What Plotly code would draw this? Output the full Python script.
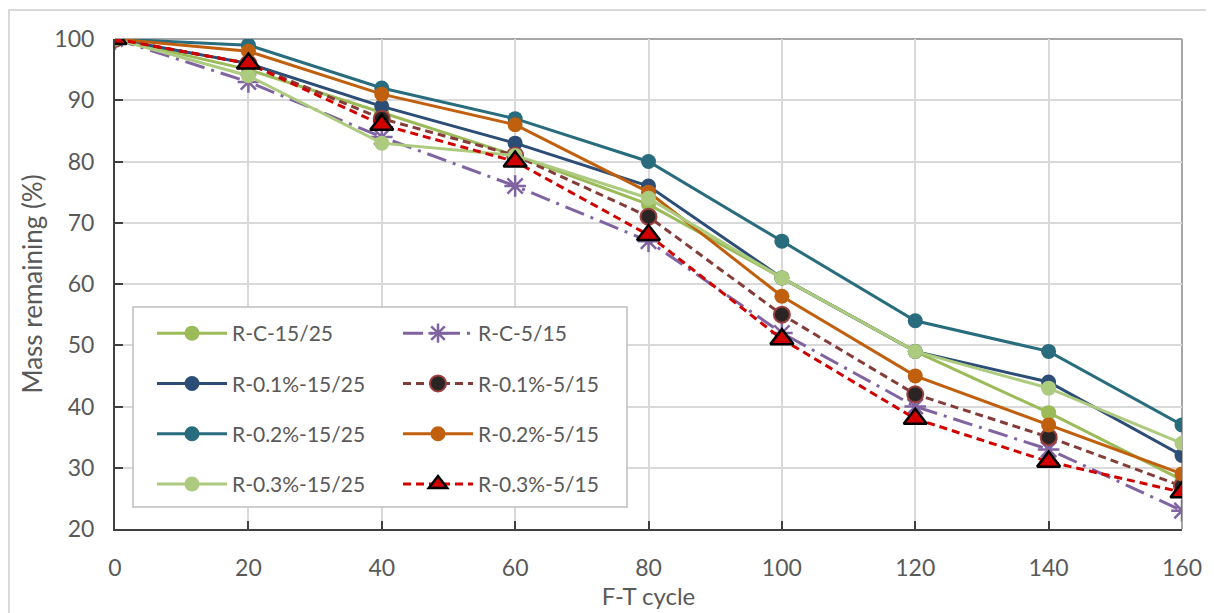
import plotly.graph_objects as go

cycles = [0, 20, 40, 60, 80, 100, 120, 140, 160]

names = ["R-C-15/25", "R-C-5/15", "R-0.1%-15/25", "R-0.1%-5/15",
         "R-0.2%-15/25", "R-0.2%-5/15", "R-0.3%-15/25", "R-0.3%-5/15"]

rc_1525 = [100, 95, 88, 81, 73, 61, 49, 39, 28]
rc_515 = [100, 93, 84, 76, 67, 52, 40, 33, 23]
r01_1525 = [100, 96, 89, 83, 76, 61, 49, 44, 32]
r01_515 = [100, 96, 87, 81, 71, 55, 42, 35, 27]
r02_1525 = [100, 99, 92, 87, 80, 67, 54, 49, 37]
r02_515 = [100, 98, 91, 86, 75, 58, 45, 37, 29]
r03_1525 = [100, 94, 83, 81, 74, 61, 49, 43, 34]
r03_515 = [100, 96, 86, 80, 68, 51, 38, 31, 26]

y_ticks = [20, 30, 40, 50, 60, 70, 80, 90, 100]
x_ticks = [0, 20, 40, 60, 80, 100, 120, 140, 160]

series = [rc_1525, rc_515, r01_1525, r01_515, r02_1525, r02_515, r03_1525, r03_515]

styles = [
    dict(line=dict(color="#9BBB59", width=3),
         marker=dict(symbol="circle", size=15, color="#9BBB59")),
    dict(line=dict(color="#8064A2", width=3, dash="20px,7px,3px,7px"),
         marker=dict(symbol="asterisk-open", size=18, color="#8064A2",
                     line=dict(color="#8064A2", width=2.5))),
    dict(line=dict(color="#2C4D75", width=3),
         marker=dict(symbol="circle", size=15, color="#2C4D75")),
    dict(line=dict(color="#843C39", width=3, dash="8px,5px"),
         marker=dict(symbol="circle", size=16, color="#2a2424",
                     line=dict(color="#9a3f3c", width=2))),
    dict(line=dict(color="#286C7D", width=3),
         marker=dict(symbol="circle", size=15, color="#286C7D")),
    dict(line=dict(color="#C0600F", width=3),
         marker=dict(symbol="circle", size=15, color="#C0600F")),
    dict(line=dict(color="#ADCB7E", width=3),
         marker=dict(symbol="circle", size=15, color="#ADCB7E")),
    dict(line=dict(color="#D00000", width=3, dash="8px,5px"),
         marker=dict(symbol="triangle-up", size=20, color="#D00000",
                     line=dict(color="#000000", width=2.5))),
]

fig = go.Figure()
for i, (name, vals, st) in enumerate(zip(names, series, styles)):
    fig.add_trace(go.Scatter(
        x=cycles, y=vals, name=name, mode="lines+markers",
        line=st["line"], marker=st["marker"],
        legend="legend" if i % 2 == 0 else "legend2",
        legendgroup=name, showlegend=True,
    ))

FONT = "Lato, 'Open Sans', sans-serif"
TXT = "#595959"

# page body has an 8px margin; the figure is sized to fill the rest of the window
OFF = 8
W, H = 1214 - OFF, 613 - OFF
PL, PR, PT, PB = 115, 1182, 39, 529          # plot area in screen pixels
L, T = PL - OFF, PT - OFF
R, B = W - (PR - OFF), H - (PB - OFF)
pw, ph = PR - PL, PB - PT

def px(xs):
    return (xs - PL) / pw

def py(ys):
    return (PB - ys) / ph

legend_common = dict(
    orientation="v", bgcolor="rgba(0,0,0,0)", borderwidth=0,
    font=dict(family=FONT, size=21, color=TXT),
    itemwidth=70, tracegroupgap=20, yanchor="top", xanchor="left",
    itemclick=False, itemdoubleclick=False,
)

fig.update_layout(
    width=W, height=H,
    margin=dict(l=L, r=R, t=T, b=B, autoexpand=False),
    paper_bgcolor="white", plot_bgcolor="white",
    font=dict(family=FONT, size=22, color=TXT),
    showlegend=True,
    legend=dict(x=px(152), y=py(313), **legend_common),
    legend2=dict(x=px(398), y=py(313), **legend_common),
    xaxis=dict(
        range=[0, 160], tickvals=x_ticks, ticktext=[str(v) for v in x_ticks],
        showgrid=True, gridcolor="#D9D9D9", gridwidth=1.5,
        showline=True, linecolor="#404040", linewidth=2,
        ticks="inside", ticklen=8, tickcolor="#404040", tickwidth=2,
        ticklabelstandoff=17, automargin=False,
        tickfont=dict(family=FONT, size=23, color=TXT),
        title=dict(text="F-T cycle", font=dict(family=FONT, size=24, color=TXT), standoff=8),
        zeroline=False,
    ),
    yaxis=dict(
        range=[20, 100], tickvals=y_ticks, ticktext=[str(v) for v in y_ticks],
        showgrid=True, gridcolor="#D9D9D9", gridwidth=1.5,
        showline=True, linecolor="#404040", linewidth=2,
        ticks="inside", ticklen=8, tickcolor="#404040", tickwidth=2,
        ticklabelstandoff=14, automargin=False,
        tickfont=dict(family=FONT, size=23, color=TXT),
        title=dict(text="Mass remaining (%)", font=dict(family=FONT, size=26, color=TXT), standoff=4),
        zeroline=False,
    ),
    shapes=[
        # outer chart border
        dict(type="rect", xref="paper", yref="paper",
             x0=px(9), x1=px(1230), y0=py(630), y1=py(10),
             line=dict(color="#D9D9D9", width=2), fillcolor="rgba(0,0,0,0)", layer="below"),
        # plot-area top/right border
        dict(type="line", xref="paper", yref="paper", x0=0, x1=1, y0=1, y1=1,
             line=dict(color="#A6A6A6", width=2), layer="below"),
        dict(type="line", xref="paper", yref="paper", x0=1, x1=1, y0=0, y1=1,
             line=dict(color="#A6A6A6", width=2), layer="below"),
        # legend box
        dict(type="rect", xref="paper", yref="paper",
             x0=px(133), x1=px(627), y0=py(507), y1=py(307),
             line=dict(color="#BFBFBF", width=1.5), fillcolor="white", layer="above"),
    ],
)

fig.write_html("out.html")
